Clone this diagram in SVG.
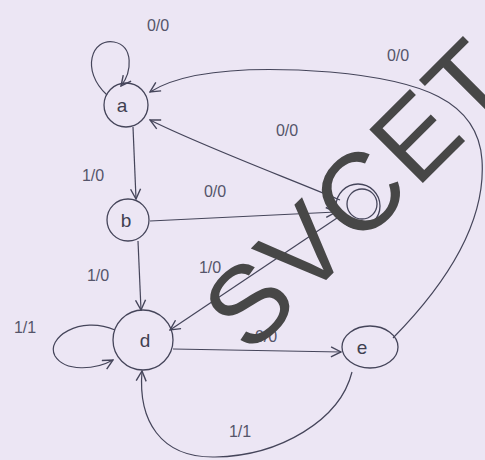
<svg xmlns="http://www.w3.org/2000/svg" width="485" height="460" viewBox="0 0 485 460">
<defs>
<style>
.n{fill:none;stroke:#45455a;stroke-width:1.3}
.e{fill:none;stroke:#45455a;stroke-width:1.2;marker-end:url(#ah)}
.t{font-family:"Liberation Sans",Arial,sans-serif;font-size:19px;fill:#404050;text-anchor:middle}
.l{font-family:"Liberation Sans",Arial,sans-serif;font-size:16px;fill:#55556a;text-anchor:middle}
.wm{font-family:"Liberation Sans",Arial,sans-serif;font-size:110px;fill:#474747;text-anchor:middle}
</style>
<marker id="ah" viewBox="0 0 12 12" refX="11" refY="6" markerWidth="12" markerHeight="12" markerUnits="userSpaceOnUse" orient="auto">
<path d="M1,1 L11,6 L1,11" fill="none" stroke="#45455a" stroke-width="1.4"/>
</marker>
</defs>
<rect width="485" height="460" fill="#ece6f4"/>
<g id="connectors">
<path class="e" d="M107,95 C 80,70 92,38 114,42 C 134,46 132,72 121,86"/>
<path class="e" d="M393,338 C 450,280 486,220 482,160 C 478,100 420,80 330,72 C 250,66 185,70 150,92"/>
<path class="e" d="M133,127 L136,199"/>
<path class="e" d="M340,200 C 280,175 200,145 150,120"/>
<path class="e" d="M150,221 L336,212"/>
<path class="e" d="M138,241 L141,310"/>
<path class="e" d="M340,216 L170,330"/>
<path class="e" d="M115,330 C 80,315 45,338 55,356 C 65,372 95,370 113,360"/>
<path class="e" d="M173,349 L341,352"/>
<path class="e" d="M352,372 C 340,420 280,456 215,457 C 160,458 138,420 142,371"/>
</g>
<g id="labels">
<text class="l" x="158" y="31">0/0</text>
<text class="l" x="398" y="61">0/0</text>
<text class="l" x="287" y="136">0/0</text>
<text class="l" x="93" y="181">1/0</text>
<text class="l" x="215" y="197">0/0</text>
<text class="l" x="98" y="281">1/0</text>
<text class="l" x="210" y="273">1/0</text>
<text class="l" x="25" y="333">1/1</text>
<text class="l" x="266" y="342">0/0</text>
<text class="l" x="240" y="437">1/1</text>
</g>
<g id="node-a"><circle class="n" cx="126" cy="105" r="22"/><text class="t" x="122" y="112">a</text></g>
<g id="node-b"><circle class="n" cx="128" cy="220" r="21"/><text class="t" x="126" y="227">b</text></g>
<g id="node-c"><circle class="n" cx="358" cy="206" r="22"/><circle class="n" cx="362" cy="204" r="15"/></g>
<g id="node-d"><circle class="n" cx="143" cy="340" r="30"/><text class="t" x="145" y="347">d</text></g>
<g id="node-e"><ellipse class="n" cx="370" cy="347" rx="28" ry="21"/><text class="t" x="362" y="354">e</text></g>
<text class="wm" transform="translate(356,194) rotate(-45)" dy="0.36em" textLength="380" lengthAdjust="spacing">SVCET</text>
</svg>
